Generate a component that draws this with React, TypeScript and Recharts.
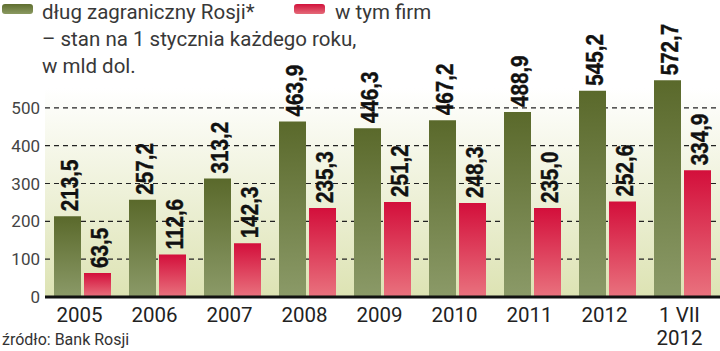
import { BarChart, Bar, XAxis, YAxis, CartesianGrid, LabelList } from "recharts";

const years = ["2005", "2006", "2007", "2008", "2009", "2010", "2011", "2012", "1 VII\n2012"];
const debtTotal = [213.5, 257.2, 313.2, 463.9, 446.3, 467.2, 488.9, 545.2, 572.7];
const debtFirms = [63.5, 112.6, 142.3, 235.3, 251.2, 248.3, 235.0, 252.6, 334.9];
const yTicks = [0, 100, 200, 300, 400, 500];
const gridValues = [100, 200, 300, 400, 500];

const data = years.map((year, i) => ({ year, total: debtTotal[i], firms: debtFirms[i] }));

const FONT = "Roboto, 'Open Sans', sans-serif";

const fmt = (v: number) => v.toFixed(1).replace(".", ",");

const BarLabel = (props: any) => {
  const { x, y, width, value } = props;
  if (value == null) return null;
  const cx = Number(x) + Number(width) / 2 + 2;
  return (
    <text
      transform={`translate(${cx},${Number(y) - 5}) rotate(-90) scale(0.86,1)`}
      dy="0.36em"
      textAnchor="start"
      fill="#111"
      stroke="#111"
      strokeWidth={0.4}
      style={{ fontFamily: "'Liberation Sans', Arial, sans-serif", fontWeight: 700, fontSize: 24 }}
    >
      {fmt(value)}
    </text>
  );
};

const YearTick = ({ x, y, payload }: any) => {
  const lines = String(payload.value).split("\n");
  const tx = Number(x) - 3;
  return (
    <text x={tx} y={y} textAnchor="middle" fill="#222" style={{ fontFamily: FONT, fontSize: 20.5 }}>
      {lines.map((l, i) => (
        <tspan key={i} x={tx} dy={i === 0 ? 17 : 23}>{l}</tspan>
      ))}
    </text>
  );
};

export default function App() {
  return (
    <div style={{ position: "absolute", left: 0, top: 0, width: 720, height: 351, background: "#fff", overflow: "hidden" }}>
      <BarChart width={720} height={351} data={data} margin={{ top: 70, right: 0, bottom: 0, left: 0 }} barSize={27} barGap={3}>
        <defs>
          <linearGradient id="bgGrad" x1="0" y1="0" x2="0" y2="1">
            <stop offset="0%" stopColor="#ffffff" />
            <stop offset="8%" stopColor="#ffffff" />
            <stop offset="100%" stopColor="#dde3b3" />
          </linearGradient>
          <linearGradient id="greenGrad" x1="0" y1="0" x2="0" y2="1">
            <stop offset="0%" stopColor="#5a692b" />
            <stop offset="100%" stopColor="#8b9a68" />
          </linearGradient>
          <linearGradient id="redGrad" x1="0" y1="0" x2="0" y2="1">
            <stop offset="0%" stopColor="#d30f3b" />
            <stop offset="100%" stopColor="#e9727e" />
          </linearGradient>
        </defs>
        <CartesianGrid
          vertical={false}
          horizontalValues={gridValues}
          fill="url(#bgGrad)"
          stroke="#222"
          strokeDasharray="5 4"
          strokeWidth={1.2}
        />
        <XAxis
          dataKey="year"
          height={54}
          tickLine={false}
          axisLine={{ stroke: "#111", strokeWidth: 3 }}
          tick={<YearTick />}
          interval={0}
        />
        <YAxis
          width={45}
          domain={[0, 600]}
          ticks={yTicks}
          axisLine={false}
          tickLine={false}
          tickSize={0}
          tickMargin={5}
          tick={{ fill: "#444", fontSize: 17, fontFamily: FONT }}
        />
        <Bar dataKey="total" fill="url(#greenGrad)" isAnimationActive={false}>
          <LabelList dataKey="total" content={<BarLabel />} />
        </Bar>
        <Bar dataKey="firms" fill="url(#redGrad)" isAnimationActive={false}>
          <LabelList dataKey="firms" content={<BarLabel />} />
        </Bar>
      </BarChart>
      <svg width={720} height={351} style={{ position: "absolute", left: 0, top: 0, pointerEvents: "none" }}>
        <defs>
          <linearGradient id="swG" x1="0" y1="0" x2="0" y2="1">
            <stop offset="0%" stopColor="#5f6e30" />
            <stop offset="100%" stopColor="#8a9960" />
          </linearGradient>
          <linearGradient id="swR" x1="0" y1="0" x2="0" y2="1">
            <stop offset="0%" stopColor="#d2123c" />
            <stop offset="100%" stopColor="#e46a78" />
          </linearGradient>
        </defs>
        <rect x={2} y={4} width={31} height={10} rx={3} fill="url(#swG)" />
        <rect x={294} y={4} width={31} height={10} rx={3} fill="url(#swR)" />
        <g style={{ fontFamily: FONT, fontSize: 20.5 }} fill="#383838">
          <text x={42} y={19}>dług zagraniczny Rosji*</text>
          <text x={335} y={19}>w tym firm</text>
          <text x={42} y={46}>– stan na 1 stycznia każdego roku,</text>
          <text x={42} y={73}>w mld dol.</text>
        </g>
        <text x={2} y={345} fill="#333" style={{ fontFamily: FONT, fontSize: 16 }}>źródło: Bank Rosji</text>
      </svg>
    </div>
  );
}
